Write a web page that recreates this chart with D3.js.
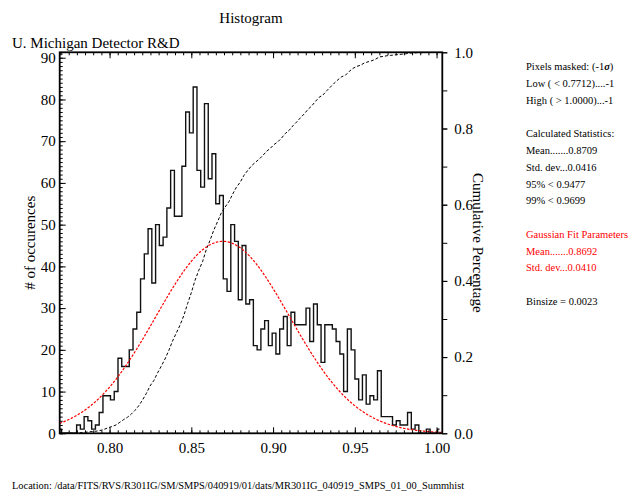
<!DOCTYPE html>
<html>
<head>
<meta charset="utf-8">
<script src="https://cdn.jsdelivr.net/npm/d3@7"></script>
<style>
  body { margin: 0; background: #fff; }
  svg text { font-family: "Liberation Serif", "Times New Roman", serif; fill: #000; }
</style>
</head>
<body>
<svg id="chart" width="629" height="493"></svg>
<script>
// ---- data ----------------------------------------------------------------
const firstBinCentre = 0.7695;
const binSize = 0.0023;

// occurrences per bin
const counts = [
  1, 0, 0, 0, 0, 2, 1, 4, 3, 1,
  2, 5, 9, 9, 8, 10, 18, 16, 16, 20,
  25, 29, 37, 43, 49, 36, 50, 45, 47, 54,
  63, 52, 52, 64, 77, 72, 83, 63, 59, 79,
  61, 67, 55, 57, 37, 34, 50, 46, 32, 45,
  31, 32, 21, 20, 25, 27, 21, 24, 19, 25,
  28, 21, 29, 26, 26, 26, 30, 22, 31, 26,
  17, 26, 26, 25, 22, 19, 10, 25, 20, 13,
  8, 14, 7, 9, 8, 15, 4, 4, 4, 2,
  3, 2, 2, 5, 1, 2, 0, 0, 1, 0,
  0, 1
];

// cumulative fraction at each bin
const cumulative = [
  0.000, 0.000, 0.000, 0.000, 0.000, 0.001, 0.002, 0.003, 0.004, 0.005,
  0.006, 0.008, 0.011, 0.015, 0.018, 0.022, 0.029, 0.036, 0.042, 0.050,
  0.060, 0.072, 0.087, 0.104, 0.124, 0.138, 0.158, 0.176, 0.195, 0.217,
  0.242, 0.263, 0.284, 0.309, 0.340, 0.369, 0.402, 0.428, 0.451, 0.483,
  0.507, 0.534, 0.556, 0.579, 0.594, 0.608, 0.628, 0.646, 0.659, 0.677,
  0.690, 0.702, 0.711, 0.719, 0.729, 0.740, 0.748, 0.758, 0.765, 0.775,
  0.787, 0.795, 0.807, 0.817, 0.828, 0.838, 0.850, 0.859, 0.871, 0.882,
  0.888, 0.899, 0.909, 0.919, 0.928, 0.936, 0.940, 0.950, 0.958, 0.963,
  0.966, 0.972, 0.975, 0.978, 0.982, 0.988, 0.989, 0.991, 0.992, 0.993,
  0.994, 0.995, 0.996, 0.998, 0.998, 0.999, 0.999, 0.999, 1.000, 1.000,
  1.000, 1.000
];

// Gaussian fit
const gaussMean = 0.8692;
const gaussSd = 0.0410;
const gaussPeak = 46;

// axis ticks
const xTickValues = [0.80, 0.85, 0.90, 0.95, 1.00];
const xTickLabels = ["0.80", "0.85", "0.90", "0.95", "1.00"];
const yTickValues = [0, 10, 20, 30, 40, 50, 60, 70, 80, 90];
const yTickLabels = ["0", "10", "20", "30", "40", "50", "60", "70", "80", "90"];
const cumTickValues = [0, 0.2, 0.4, 0.6, 0.8, 1.0];
const cumTickLabels = ["0.0", "0.2", "0.4", "0.6", "0.8", "1.0"];

// text
const titleText = "Histogram";
const labText = "U. Michigan Detector R&D";
const yTitle = "# of occurences";
const y2Title = "Cumulative Percentage";
const locationText = "Location: /data/FITS/RVS/R301IG/SM/SMPS/040919/01/dats/MR301IG_040919_SMPS_01_00_Summhist";
const statsLines = [
  { t: "Pixels masked: (-1", sym: "\u03c3", tail: ")", c: "#000" },
  { t: "Low ( < 0.7712)....-1", c: "#000" },
  { t: "High ( > 1.0000)...-1", c: "#000" },
  null,
  { t: "Calculated Statistics:", c: "#000" },
  { t: "Mean.......0.8709", c: "#000" },
  { t: "Std. dev...0.0416", c: "#000" },
  { t: "95% < 0.9477", c: "#000" },
  { t: "99% < 0.9699", c: "#000" },
  null,
  { t: "Gaussian Fit Parameters", c: "#ff0000" },
  { t: "Mean.......0.8692", c: "#ff0000" },
  { t: "Std. dev...0.0410", c: "#ff0000" },
  null,
  { t: "Binsize = 0.0023", c: "#000" }
];

// ---- layout --------------------------------------------------------------
const L = 59.7, R = 442.3, T = 52.3, B = 433.3;
const svg = d3.select("#chart");

const x = d3.scaleLinear().domain([0.7695, 1.0035]).range([L, R]);
const y = d3.scaleLinear().domain([0, 91.3]).range([B, T]);
const yc = d3.scaleLinear().domain([0, 1]).range([B, T]);

const bins = counts.map((c, i) => ({ x: firstBinCentre + i * binSize, n: c, cum: cumulative[i] }));

svg.append("defs").append("clipPath").attr("id", "plotclip")
  .append("rect").attr("x", L).attr("y", T).attr("width", R - L).attr("height", B - T);

const plot = svg.append("g").attr("clip-path", "url(#plotclip)");

// histogram outline
plot.append("path")
  .datum(bins)
  .attr("fill", "none")
  .attr("stroke", "#111")
  .attr("stroke-width", 1.4)
  .attr("d", d3.line().curve(d3.curveStep).x(d => x(d.x)).y(d => y(d.n)));

// cumulative curve
plot.append("path")
  .datum(bins)
  .attr("fill", "none")
  .attr("stroke", "#000")
  .attr("stroke-width", 1)
  .attr("stroke-dasharray", "3,2")
  .attr("d", d3.line().x(d => x(d.x)).y(d => yc(d.cum)));

// Gaussian fit curve
const gx = d3.range(0, 241).map(i => 0.7695 + i * 0.001);
plot.append("path")
  .datum(gx)
  .attr("fill", "none")
  .attr("stroke", "#ff0000")
  .attr("stroke-width", 1.2)
  .attr("stroke-dasharray", "2.5,1.5")
  .attr("d", d3.line()
    .x(v => x(v))
    .y(v => y(gaussPeak * Math.exp(-((v - gaussMean) ** 2) / (2 * gaussSd * gaussSd)))));

// ---- axes ----------------------------------------------------------------
const xMinor = d3.range(154, 201).map(v => v / 200);
const yMinor = d3.range(0, 92);
const cMinor = d3.range(0, 11).map(v => v / 10);

function styleAxis(g) {
  g.select(".domain").remove();
  g.selectAll(".tick line").attr("stroke", "#000").attr("stroke-width", 1);
  g.attr("font-family", "Liberation Serif, Times New Roman, serif").attr("font-size", 15);
  g.selectAll(".tick text").attr("fill", "#000");
}

// bottom
svg.append("g").attr("transform", `translate(0,${B})`)
  .call(d3.axisBottom(x).tickValues(xMinor).tickSize(-3).tickFormat("")).call(styleAxis);
svg.append("g").attr("transform", `translate(0,${B})`)
  .call(d3.axisBottom(x).tickValues(xTickValues).tickSize(-6).tickPadding(9)
    .tickFormat((d, i) => xTickLabels[i])).call(styleAxis);
// top
svg.append("g").attr("transform", `translate(0,${T})`)
  .call(d3.axisTop(x).tickValues(xMinor).tickSize(-3).tickFormat("")).call(styleAxis);
svg.append("g").attr("transform", `translate(0,${T})`)
  .call(d3.axisTop(x).tickValues(xTickValues).tickSize(-6).tickFormat("")).call(styleAxis);
// left
svg.append("g").attr("transform", `translate(${L},0)`)
  .call(d3.axisLeft(y).tickValues(yMinor).tickSize(-3).tickFormat("")).call(styleAxis);
svg.append("g").attr("transform", `translate(${L},0)`)
  .call(d3.axisLeft(y).tickValues(yTickValues).tickSize(-6).tickPadding(4)
    .tickFormat((d, i) => yTickLabels[i])).call(styleAxis);
// right (cumulative)
svg.append("g").attr("transform", `translate(${R},0)`)
  .call(d3.axisRight(yc).tickValues(cMinor).tickSize(5).tickFormat("")).call(styleAxis);
svg.append("g").attr("transform", `translate(${R},0)`)
  .call(d3.axisRight(yc).tickValues(cumTickValues).tickSize(5).tickPadding(7)
    .tickFormat((d, i) => cumTickLabels[i])).call(styleAxis);

// frame
svg.append("rect")
  .attr("x", L).attr("y", T).attr("width", R - L).attr("height", B - T)
  .attr("fill", "none").attr("stroke", "#000").attr("stroke-width", 1.8);

// ---- text ----------------------------------------------------------------
svg.append("text").attr("x", 251).attr("y", 23).attr("text-anchor", "middle")
  .attr("font-size", 15).text(titleText);
svg.append("text").attr("x", 12).attr("y", 47.5).attr("font-size", 15).text(labText);

svg.append("text")
  .attr("transform", `translate(35,${(T + B) / 2}) rotate(-90)`)
  .attr("text-anchor", "middle").attr("font-size", 15).text(yTitle);
svg.append("text")
  .attr("transform", `translate(473,${(T + B) / 2}) rotate(90)`)
  .attr("text-anchor", "middle").attr("font-size", 15).text(y2Title);

svg.append("text").attr("x", 12).attr("y", 489).attr("font-size", 10.4).text(locationText);

const stats = svg.append("g").attr("font-size", 10.5);
statsLines.forEach((s, i) => {
  if (!s) return;
  const t = stats.append("text")
    .attr("x", 526).attr("y", 66.7 + i * 16.75).attr("dy", "0.35em")
    .attr("fill", s.c).style("fill", s.c);
  t.append("tspan").text(s.t);
  if (s.sym) {
    t.append("tspan").attr("font-weight", "bold").attr("font-style", "italic").text(s.sym);
    t.append("tspan").text(s.tail);
  }
});
</script>
</body>
</html>
